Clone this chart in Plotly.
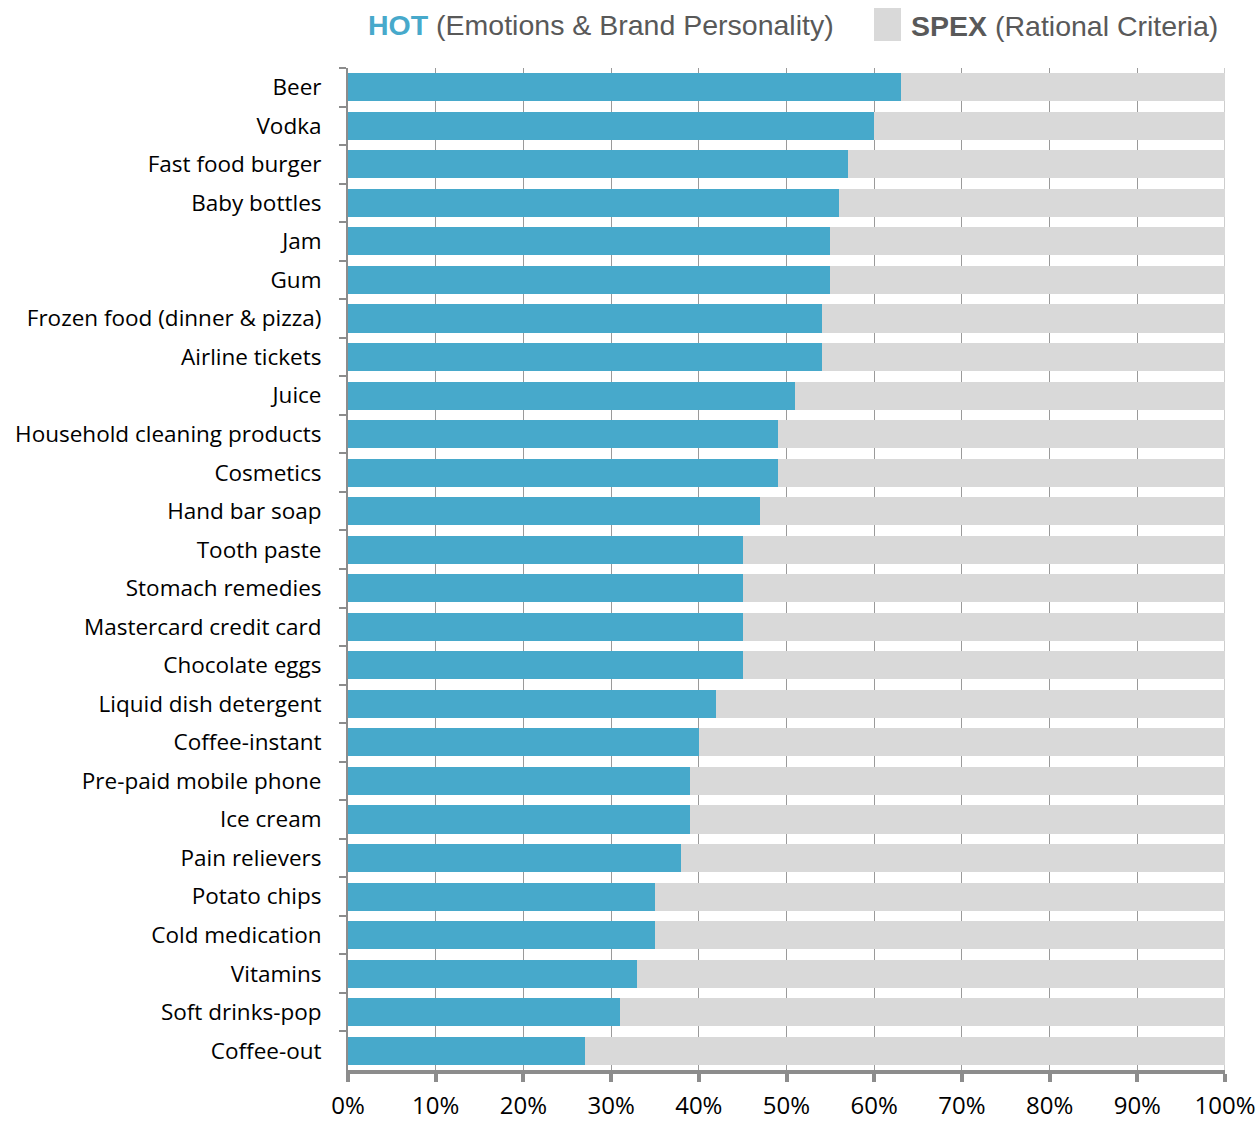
import plotly.graph_objects as go

# Share of brand choice driven by emotions (HOT) vs. rational criteria (SPEX), in %
categories = [
    "Beer", "Vodka", "Fast food burger", "Baby bottles", "Jam", "Gum",
    "Frozen food (dinner & pizza)", "Airline tickets", "Juice",
    "Household cleaning products", "Cosmetics", "Hand bar soap", "Tooth paste",
    "Stomach remedies", "Mastercard credit card", "Chocolate eggs",
    "Liquid dish detergent", "Coffee-instant", "Pre-paid mobile phone",
    "Ice cream", "Pain relievers", "Potato chips", "Cold medication",
    "Vitamins", "Soft drinks-pop", "Coffee-out",
]
hot_values = [63, 60, 57, 56, 55, 55, 54, 54, 51, 49, 49, 47, 45, 45, 45, 45,
              42, 40, 39, 39, 38, 35, 35, 33, 31, 27]
spex_values = [100 - v for v in hot_values]
tick_values = [0, 10, 20, 30, 40, 50, 60, 70, 80, 90, 100]
tick_labels = [f"{v}%" for v in tick_values]

HOT_COLOR = "#47A9CB"
SPEX_COLOR = "#D9D9D9"
AXIS_COLOR = "#8C8C8C"

fig = go.Figure()
fig.add_trace(go.Bar(
    y=categories, x=hot_values, orientation="h", name="HOT",
    marker=dict(color=HOT_COLOR, line=dict(width=0)), width=0.73,
))
fig.add_trace(go.Bar(
    y=categories, x=spex_values, orientation="h", name="SPEX",
    marker=dict(color=SPEX_COLOR, line=dict(width=0)), width=0.73,
))

L, R, T, B = 348, 33, 68, 51
fig.update_layout(
    barmode="stack",
    width=1258, height=1121,
    margin=dict(l=L, r=R, t=T, b=B, autoexpand=False),
    paper_bgcolor="white", plot_bgcolor="white",
    showlegend=False,
    font=dict(family="Open Sans, sans-serif", color="black"),
)

fig.update_xaxes(
    range=[0, 100], tickvals=tick_values, ticktext=tick_labels,
    showline=True, linecolor=AXIS_COLOR, linewidth=4,
    ticks="outside", ticklen=8, tickwidth=4, tickcolor=AXIS_COLOR,
    showgrid=True, gridcolor="#9A9A9A", gridwidth=1, zeroline=False,
    tickfont=dict(size=24, color="black"), ticklabelstandoff=3,
    automargin=False,
)
fig.update_yaxes(
    autorange="reversed",
    showline=True, linecolor=AXIS_COLOR, linewidth=2,
    ticks="outside", ticklen=7, tickwidth=2, tickcolor=AXIS_COLOR,
    tickson="boundaries", showgrid=False,
    tickfont=dict(size=22.5, color="black"), ticklabelstandoff=20,
    automargin=False,
)

# Right-hand border line at 100%
fig.add_shape(
    type="line", xref="x", yref="paper", x0=100, x1=100, y0=0, y1=1,
    line=dict(color="#9A9A9A", width=1), layer="below",
)

# Legend drawn as text headers above the plot
plot_w = 1258 - L - R
plot_h = 1121 - T - B


def px_x(px):
    return (px - L) / plot_w


def px_y(py):
    return 1 + (T - py) / plot_h


legend_font = dict(family="Liberation Sans, Arial, sans-serif", size=28.5, color="#595959")
fig.add_annotation(
    x=px_x(366), y=px_y(25), xref="paper", yref="paper", showarrow=False,
    text="<b><span style='color:%s'>HOT</span></b> (Emotions &amp; Brand Personality)" % HOT_COLOR,
    font=legend_font, xanchor="left", yanchor="middle",
)
fig.add_annotation(
    x=px_x(909), y=px_y(26), xref="paper", yref="paper", showarrow=False,
    text="<b>SPEX</b> (Rational Criteria)",
    font=legend_font, xanchor="left", yanchor="middle",
)
fig.add_shape(
    type="rect", xref="paper", yref="paper",
    x0=px_x(874), x1=px_x(901), y0=px_y(41), y1=px_y(8),
    fillcolor=SPEX_COLOR, line=dict(width=0),
)

fig.write_html("out.html")
